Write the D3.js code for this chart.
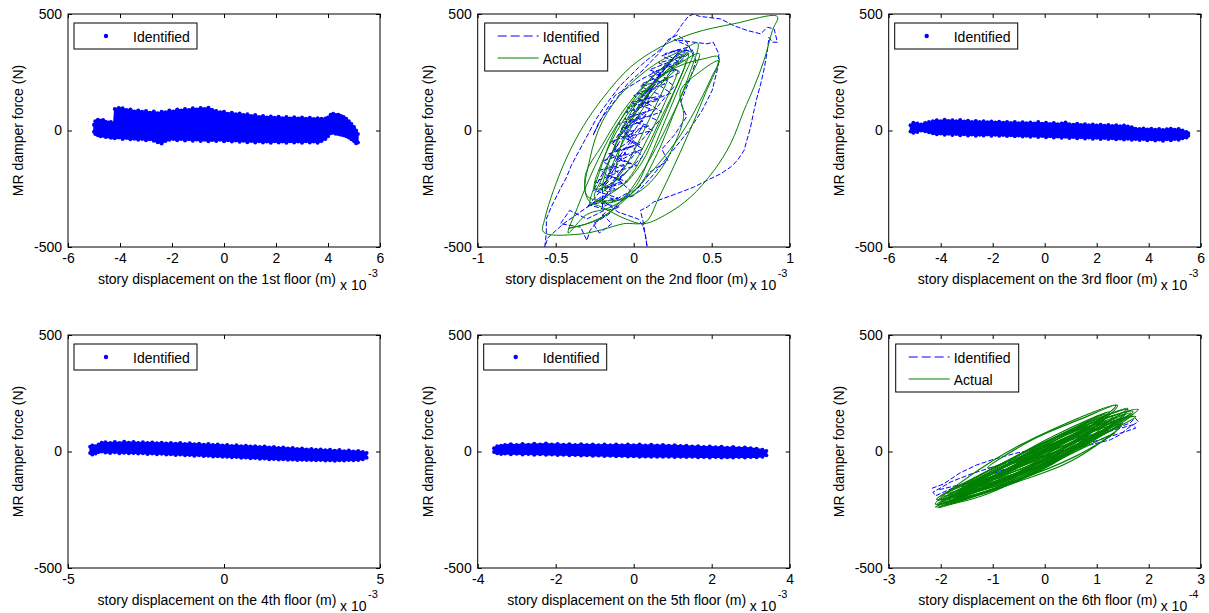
<!DOCTYPE html>
<html>
<head>
<meta charset="utf-8">
<script src="https://cdn.jsdelivr.net/npm/d3@7"></script>
<style>
  body { margin: 0; background: #fff; }
  svg text { font-family: "Liberation Sans", Arial, sans-serif; font-size: 14px; fill: #000; }
</style>
</head>
<body>
<svg id="fig" width="1209" height="613"></svg>
<script>
const floorNames = ["1st", "2nd", "3rd", "4th", "5th", "6th"];
const xDomains = [[-6, 6], [-1, 1], [-6, 6], [-5, 5], [-4, 4], [-3, 3]];
const xTicks = [
  [-6, -4, -2, 0, 2, 4, 6],
  [-1, -0.5, 0, 0.5, 1],
  [-6, -4, -2, 0, 2, 4, 6],
  [-5, 0, 5],
  [-4, -2, 0, 2, 4],
  [-3, -2, -1, 0, 1, 2, 3]
];
const xExponents = ["-3", "-3", "-3", "-3", "-3", "-4"];
const yTicks = [-500, 0, 500];
const seriesNames = ["Identified", "Actual"];

// identified force clouds (dense point bands): [displacement, upper edge, lower edge]
const cloud1 = [
  [-5.00, 25, -5], [-4.95, 40, -15], [-4.85, 46, -20], [-4.75, 42, -25], [-4.65, 45, -22], [-4.55, 38, -28],
  [-4.45, 34, -26], [-4.35, 36, -31], [-4.24, 30, -30], [-4.20, 92, -33], [-4.05, 97, -30], [-3.90, 95, -36],
  [-3.75, 88, -32], [-3.60, 90, -38], [-3.45, 82, -35], [-3.30, 86, -40], [-3.15, 80, -36], [-3.00, 84, -42],
  [-2.85, 76, -38], [-2.70, 82, -44], [-2.55, 74, -50], [-2.40, 80, -56], [-2.25, 78, -45], [-2.10, 86, -40],
  [-1.95, 82, -36], [-1.80, 90, -42], [-1.65, 86, -37], [-1.50, 92, -43], [-1.35, 88, -38], [-1.20, 95, -44],
  [-1.05, 90, -39], [-0.90, 97, -45], [-0.75, 92, -40], [-0.60, 98, -46], [-0.45, 88, -41], [-0.30, 84, -45],
  [-0.15, 78, -40], [0.00, 80, -46], [0.15, 72, -42], [0.30, 76, -47], [0.45, 70, -43], [0.60, 73, -48],
  [0.75, 66, -44], [0.90, 70, -50], [1.05, 62, -45], [1.20, 66, -51], [1.35, 58, -46], [1.50, 62, -52],
  [1.65, 56, -47], [1.80, 60, -53], [1.95, 55, -46], [2.10, 59, -52], [2.25, 53, -47], [2.40, 58, -53],
  [2.55, 52, -46], [2.70, 57, -52], [2.85, 51, -47], [3.00, 56, -53], [3.15, 50, -46], [3.30, 55, -52],
  [3.45, 49, -47], [3.60, 53, -53], [3.75, 50, -45], [3.90, 52, -36], [4.00, 56, -25], [4.10, 68, -12],
  [4.20, 72, -10], [4.30, 66, -14], [4.40, 68, -15], [4.50, 62, -18], [4.60, 58, -20], [4.70, 50, -25],
  [4.80, 40, -30], [4.90, 28, -38], [5.00, 15, -45], [5.08, 0, -55], [5.15, -15, -52]
];
const cloud3 = [
  [-5.16, 22, -4], [-5.05, 33, -10], [-4.90, 30, -6], [-4.75, 26, 0], [-4.60, 32, -3], [-4.45, 36, -8],
  [-4.30, 40, -12], [-4.15, 44, -16], [-4.00, 40, -13], [-3.85, 46, -18], [-3.70, 41, -14], [-3.55, 44, -19],
  [-3.40, 40, -15], [-3.25, 45, -20], [-3.10, 39, -16], [-2.95, 42, -21], [-2.80, 37, -17], [-2.65, 41, -22],
  [-2.50, 36, -18], [-2.35, 40, -21], [-2.20, 35, -17], [-2.05, 39, -22], [-1.90, 34, -18], [-1.75, 38, -23],
  [-1.60, 33, -19], [-1.45, 37, -24], [-1.30, 32, -20], [-1.15, 36, -25], [-1.00, 31, -21], [-0.85, 35, -26],
  [-0.70, 31, -22], [-0.55, 34, -27], [-0.40, 30, -23], [-0.25, 36, -28], [-0.10, 29, -24], [0.05, 33, -29],
  [0.20, 28, -25], [0.35, 32, -30], [0.50, 27, -26], [0.65, 30, -31], [0.80, 34, -27], [0.95, 27, -32],
  [1.10, 25, -28], [1.25, 29, -33], [1.40, 24, -29], [1.55, 27, -34], [1.70, 22, -30], [1.85, 26, -35],
  [2.00, 21, -31], [2.15, 25, -36], [2.30, 20, -32], [2.45, 24, -37], [2.60, 19, -33], [2.75, 23, -38],
  [2.90, 18, -34], [3.05, 21, -39], [3.20, 17, -35], [3.35, 14, -40], [3.50, 8, -36], [3.65, 6, -41],
  [3.80, 9, -37], [3.95, 4, -42], [4.10, 7, -38], [4.25, 3, -43], [4.40, 6, -39], [4.55, 2, -44],
  [4.70, 5, -38], [4.85, 8, -42], [5.00, 3, -37], [5.15, 6, -40], [5.30, 0, -33], [5.45, -6, -30], [5.52, -12, -22]
];
const cloud4 = [
  [-4.29, 20, -6], [-4.22, 26, -13], [-4.12, 22, -9], [-4.02, 30, -2], [-3.92, 38, 0], [-3.80, 40, -4],
  [-3.65, 36, -6], [-3.50, 41, -3], [-3.35, 37, -7], [-3.20, 42, -5], [-3.05, 38, -8], [-2.90, 41, -6],
  [-2.75, 37, -9], [-2.60, 40, -7], [-2.45, 36, -11], [-2.30, 39, -9], [-2.15, 35, -12], [-2.00, 38, -10],
  [-1.85, 34, -13], [-1.70, 37, -12], [-1.55, 33, -15], [-1.40, 36, -13], [-1.25, 32, -16], [-1.10, 35, -15],
  [-0.95, 31, -18], [-0.80, 33, -16], [-0.65, 29, -19], [-0.50, 32, -18], [-0.35, 28, -21], [-0.20, 30, -20],
  [-0.05, 26, -23], [0.10, 28, -22], [0.25, 24, -25], [0.40, 27, -24], [0.55, 23, -27], [0.70, 25, -26],
  [0.85, 21, -29], [1.00, 23, -28], [1.15, 19, -31], [1.30, 21, -30], [1.45, 17, -33], [1.60, 19, -32],
  [1.75, 15, -34], [1.90, 17, -33], [2.05, 13, -35], [2.20, 15, -34], [2.35, 11, -36], [2.50, 13, -35],
  [2.65, 9, -37], [2.80, 11, -36], [2.95, 7, -38], [3.10, 9, -37], [3.25, 5, -39], [3.40, 7, -38],
  [3.55, 3, -40], [3.70, 6, -38], [3.85, 1, -39], [4.00, 4, -37], [4.15, 0, -38], [4.30, 2, -36],
  [4.45, -2, -33], [4.57, -6, -27]
];
const cloud5 = [
  [-3.58, 14, -2], [-3.50, 22, -8], [-3.40, 25, -11], [-3.30, 28, -9], [-3.15, 31, -12], [-3.00, 28, -10],
  [-2.85, 32, -13], [-2.70, 29, -11], [-2.55, 33, -14], [-2.40, 30, -12], [-2.25, 34, -14], [-2.10, 30, -13],
  [-1.95, 32, -15], [-1.80, 29, -14], [-1.65, 31, -16], [-1.50, 28, -15], [-1.35, 31, -17], [-1.20, 28, -16],
  [-1.05, 30, -18], [-0.90, 27, -17], [-0.75, 30, -19], [-0.60, 27, -18], [-0.45, 30, -20], [-0.30, 27, -19],
  [-0.15, 30, -21], [0.00, 27, -20], [0.15, 30, -22], [0.30, 26, -21], [0.45, 29, -23], [0.60, 26, -22],
  [0.75, 28, -23], [0.90, 25, -22], [1.05, 27, -24], [1.20, 24, -23], [1.35, 25, -24], [1.50, 21, -23],
  [1.65, 23, -25], [1.80, 19, -24], [1.95, 21, -26], [2.10, 18, -24], [2.25, 20, -26], [2.40, 16, -25],
  [2.55, 19, -26], [2.70, 15, -24], [2.85, 17, -26], [3.00, 14, -24], [3.15, 12, -25], [3.30, 8, -22],
  [3.40, 2, -16]
];

// 2nd floor: force-displacement traces [x (1e-3 m), force N]
const identified2 = [
  [-0.02, -40], [-0.12, -90], [0.02, -60], [-0.08, 10], [0.06, 40], [-0.05, 80], [0.10, 110], [0.00, 150],
  [0.14, 180], [0.05, 200], [0.20, 240], [0.10, 260], [0.25, 300], [0.18, 320], [0.30, 350],
  [0.22, 280], [0.30, 250], [0.15, 200], [0.24, 160], [0.08, 120], [0.18, 80], [0.00, 40], [0.12, 0],
  [-0.06, -30], [0.06, -80], [-0.12, -120], [0.02, -150], [-0.18, -190], [-0.04, -220], [-0.24, -260],
  [-0.10, -290], [-0.28, -320], [-0.18, -340], [-0.30, -380],
  [-0.41, -343], [-0.47, -400], [-0.34, -415], [-0.30, -472], [-0.28, -429], [-0.21, -372], [-0.17, -343], [-0.09, -329],
  [-0.22, -310], [-0.05, -180], [-0.15, -230], [0.02, -90], [-0.12, -140], [-0.20, -240], [-0.08, -120],
  [0.06, 20], [-0.04, -40], [0.10, 90], [0.00, 40], [-0.14, -60], [-0.02, 60], [0.14, 200], [0.05, 140],
  [0.22, 280], [0.12, 200], [0.28, 330], [0.18, 260], [0.05, 100], [0.12, 180], [-0.06, 0], [0.04, 70],
  [-0.18, -130], [-0.10, -60], [-0.26, -260], [-0.14, -200], [-0.30, -330], [-0.18, -280], [-0.06, -150],
  [-0.16, -170], [0.00, -30], [-0.08, -10], [0.08, 140], [0.00, 110], [0.18, 240], [0.08, 170], [0.24, 300],
  [0.34, 350], [0.20, 220], [0.26, 190], [0.10, 60], [0.16, 40], [0.00, -80], [0.06, -110], [-0.10, -210],
  [-0.02, -260], [-0.20, -330],
  [-0.20, -250], [-0.08, -220], [-0.22, -170], [-0.02, -140], [-0.16, -100], [0.04, -60], [-0.10, -20], [0.10, 20],
  [-0.06, 50], [0.12, 90], [-0.02, 120], [0.18, 150], [0.04, 190], [0.22, 220], [0.12, 250], [0.30, 290],
  [0.20, 330], [0.36, 360], [0.26, 390],
  [0.47, 372], [0.51, 379], [0.546, 329], [0.54, 272], [0.503, 172], [0.439, 86], [0.353, 0], [0.268, -72],
  [0.182, -143], [0.096, -214], [0.00, -280], [-0.10, -300], [-0.20, -280],
  [-0.30, -330], [-0.45, -400], [-0.55, -460], [-0.57, -500], [-0.56, -440], [-0.56, -380], [-0.53, -330],
  [-0.50, -290], [-0.47, -250], [-0.43, -200], [-0.40, -150], [-0.36, -100], [-0.32, -50], [-0.28, 0],
  [-0.24, 50], [-0.19, 100], [-0.14, 145], [-0.09, 190], [-0.03, 230], [0.03, 270], [0.09, 305], [0.15, 335],
  [0.21, 375], [0.27, 415], [0.31, 455], [0.35, 490], [0.385, 500],
  [0.42, 490], [0.471, 486], [0.557, 479], [0.642, 450], [0.728, 429], [0.814, 415], [0.857, 443], [0.90, 436],
  [0.921, 379], [0.889, 379], [0.867, 400],
  [0.857, 343], [0.835, 260], [0.814, 200], [0.79, 140], [0.771, 86], [0.749, 14], [0.707, -86], [0.664, -129],
  [0.621, -157], [0.557, -186], [0.471, -214], [0.385, -243], [0.30, -265], [0.214, -286], [0.128, -307],
  [0.086, -329], [0.043, -343],
  [0.06, -390], [0.07, -430], [0.08, -470], [0.086, -500], [0.075, -450], [0.06, -410], [0.03, -380],
  [-0.10, -350], [-0.20, -300], [-0.12, -250], [-0.25, -220], [-0.10, -180], [-0.20, -130], [-0.05, -100],
  [-0.15, -50], [0.00, -10], [-0.10, 30], [0.08, 60], [-0.04, 100], [0.16, 130], [0.02, 160], [0.20, 200],
  [0.10, 230], [0.27, 260], [0.16, 290], [0.33, 320], [0.25, 340], [0.38, 345], [0.30, 300],
  [0.22, 280], [0.05, 220], [-0.12, 150], [-0.20, 60], [-0.26, -20], [-0.22, 40], [-0.14, 110], [-0.04, 200],
  [0.06, 260], [0.16, 330], [0.22, 390], [0.28, 410], [0.34, 380], [0.40, 300], [0.36, 220], [0.30, 120],
  [0.34, 60], [0.26, -20], [0.18, -80], [0.22, -130], [0.10, -180], [0.04, -240], [-0.08, -300], [-0.16, -360],
  [-0.26, -400], [-0.22, -440], [-0.14, -400], [-0.20, -360]
];
const actual2 = [
  [-0.12, -180], [-0.08, -60], [0.00, 60], [0.10, 160], [0.22, 230], [0.15, 120], [0.08, 20], [0.00, -90], [-0.10, -200],
  [-0.20, -260], [-0.15, -120], [-0.05, 40], [0.08, 170], [0.25, 280], [0.35, 330], [0.28, 200], [0.18, 60],
  [0.08, -80], [-0.05, -220], [-0.22, -300],
  [-0.28, -320], [-0.22, -180], [-0.12, 0], [0.02, 150], [0.20, 280], [0.41, 375], [0.35, 230], [0.25, 60],
  [0.15, -100], [0.02, -250], [-0.15, -330], [-0.30, -360],
  [-0.42, -440], [-0.36, -330], [-0.26, -170], [-0.12, 10], [0.06, 165], [0.27, 270], [0.45, 308], [0.546, 315],
  [0.46, 160], [0.36, 0], [0.26, -150], [0.16, -290], [0.075, -393], [-0.064, -400], [-0.20, -425], [-0.35, -445],
  [-0.578, -436], [-0.567, -372], [-0.514, -257], [-0.428, -114], [-0.321, 21], [-0.193, 143], [-0.021, 272],
  [0.171, 358], [0.385, 418], [0.642, 458], [0.921, 489], [0.889, 429], [0.835, 300], [0.771, 186], [0.707, 86],
  [0.621, -57], [0.514, -172], [0.364, -286], [0.214, -358], [0.064, -400],
  [-0.05, -380], [-0.20, -330], [-0.29, -300], [-0.31, -193], [-0.20, -60], [-0.05, 100], [0.12, 230], [0.30, 320],
  [0.38, 340], [0.30, 200], [0.20, 40], [0.10, -120], [0.00, -250], [-0.15, -310], [-0.25, -290],
  [-0.20, -200], [-0.10, -40], [0.05, 120], [0.20, 250], [0.33, 300], [0.25, 150], [0.15, 0], [0.05, -140],
  [-0.08, -240], [-0.18, -260],
  [-0.12, -120], [0.00, 30], [0.15, 180], [0.28, 260], [0.20, 120], [0.10, -20], [-0.02, -160], [-0.15, -230],
  [-0.25, -250], [-0.18, -100], [-0.05, 60], [0.12, 200], [0.30, 290], [0.42, 330], [0.32, 170], [0.20, 0],
  [0.08, -150], [-0.05, -280], [-0.22, -380], [-0.42, -420],
  [-0.30, -400], [-0.15, -350], [0.00, -260], [0.15, -150], [0.30, -20], [0.42, 120], [0.50, 230], [0.546, 300],
  [0.42, 250], [0.30, 170], [0.32, 60], [0.26, -60], [0.16, -180], [0.04, -260], [-0.12, -300], [-0.30, -280],
  [-0.28, -120], [-0.20, 40], [-0.05, 180], [0.15, 290], [0.30, 340]
];

// 6th floor: [x (1e-4 m), force N]
const identified6 = [
  [-2.17, -158], [-1.95, -140], [-1.63, -92], [-1.31, -58], [-1.02, -36], [-0.60, -10], [0.00, 20], [0.50, 50],
  [1.06, 80], [1.38, 100], [1.64, 122], [1.74, 144], [1.80, 128], [1.60, 100], [1.45, 72], [1.26, 50],
  [0.90, 30], [0.40, 5], [-0.20, -30], [-0.80, -80], [-1.30, -120], [-1.70, -150], [-2.10, -190],
  [-2.15, -175], [-1.80, -130], [-1.40, -95], [-0.90, -60], [-0.30, -20], [0.30, 20], [0.90, 60],
  [1.30, 90], [1.70, 115], [1.75, 100], [1.20, 60], [0.60, 20], [0.00, -15], [-0.70, -70], [-1.40, -130], [-2.05, -165]
];
const actual6 = [
  [[-2.10, -225], [-1.00, -40], [0.20, 100], [1.40, 198], [0.50, 28], [-0.80, -125]],
  [[-2.05, -232], [-0.90, -80], [0.30, 70], [1.80, 180], [0.80, 40], [-0.60, -130]],
  [[-2.08, -205], [-1.20, -95], [0.00, 40], [1.20, 160], [0.30, -10], [-1.00, -150]],
  [[-1.90, -215], [-0.60, -60], [0.60, 95], [1.70, 172], [0.90, 50], [-0.40, -110]],
  [[-2.05, -242], [-0.90, -135], [0.30, -20], [1.45, 105], [0.50, -42], [-0.60, -136]],
  [[-1.70, -200], [-0.50, -30], [0.80, 120], [1.60, 185], [0.70, 60], [-0.50, -90]],
  [[-1.50, -160], [-0.40, -20], [0.60, 90], [1.20, 150], [0.40, 20], [-0.60, -100]],
  [[-1.80, -210], [-0.70, -90], [0.50, 40], [1.70, 160], [0.80, 30], [-0.30, -80]],
  [[-1.20, -150], [-0.20, -30], [0.80, 80], [1.50, 140], [0.60, 30], [-0.40, -80]],
  [[-2.00, -190], [-1.00, -90], [0.00, 10], [1.00, 100], [0.00, -30], [-1.00, -140]],
  [[-1.60, -180], [-0.50, -50], [0.60, 60], [1.30, 110], [0.30, -10], [-0.80, -130]],
  [[-2.10, -238], [-1.40, -175], [-0.50, -100], [0.90, 40], [-0.20, -90], [-1.20, -190]],
  [[-1.10, -70], [-0.20, 55], [0.70, 140], [1.37, 198], [0.90, 110], [0.00, 20]],
  [[-1.90, -180], [-1.20, -110], [-0.30, -10], [0.70, 70], [-0.10, -40], [-1.00, -120]],
  [[-2.00, -215], [-0.95, -100], [0.10, 20], [1.30, 150], [0.40, -20], [-0.80, -150]],
  [[-1.95, -200], [-0.80, -70], [0.40, 60], [1.55, 160], [0.60, 20], [-0.50, -100]],
  [[-1.75, -195], [-0.70, -80], [0.30, 40], [1.40, 140], [0.50, 0], [-0.70, -130]],
  [[-1.40, -160], [-0.30, -40], [0.90, 100], [1.65, 165], [0.80, 50], [-0.30, -70]],
  [[-2.08, -228], [-1.10, -120], [-0.10, 0], [1.10, 130], [0.20, -40], [-0.90, -160]],
  [[-1.85, -205], [-0.85, -60], [0.20, 70], [1.25, 170], [0.40, 40], [-0.70, -110]],
  [[-1.30, -150], [-0.10, -10], [1.00, 110], [1.75, 150], [1.00, 60], [-0.10, -60]],
  [[-2.02, -222], [-1.30, -150], [-0.30, -60], [0.60, 20], [-0.20, -80], [-1.30, -185]],
  [[-0.80, -60], [0.20, 60], [1.00, 140], [1.60, 180], [1.10, 90], [0.20, 10]],
  [[-1.60, -150], [-0.80, -50], [0.10, 50], [0.90, 110], [0.10, 10], [-0.90, -100]],
  [[-1.00, -120], [0.00, -20], [1.00, 80], [1.50, 120], [0.80, 40], [-0.10, -60]],
  [[-2.05, -210], [-1.50, -150], [-0.70, -60], [0.30, 30], [-0.50, -60], [-1.40, -160]],
  [[-1.50, -140], [-0.60, -40], [0.40, 70], [1.20, 130], [0.50, 30], [-0.40, -60]],
  [[-1.70, -190], [-0.60, -110], [0.50, -10], [1.35, 80], [0.60, -20], [-0.50, -120]]
];

// layout
const W = 312, H = 233;
const lefts = [68, 477.7, 888.7];
const tops = [14, 335];
const BLUE = "#0000ff", GREEN = "#008000";

const svg = d3.select("#fig");
const clouds = { 0: cloud1, 2: cloud3, 3: cloud4, 4: cloud5 };

floorNames.forEach((name, i) => {
  const left = lefts[i % 3], top = tops[Math.floor(i / 3)];
  const x = d3.scaleLinear().domain(xDomains[i]).range([0, W]);
  const y = d3.scaleLinear().domain([-500, 500]).range([H, 0]);
  const g = svg.append("g").attr("transform", `translate(${left},${top})`);

  g.append("clipPath").attr("id", "clip" + i)
    .append("rect").attr("width", W).attr("height", H);
  const plot = g.append("g").attr("clip-path", `url(#clip${i})`);

  const line = d3.line().x(d => x(d[0])).y(d => y(d[1]));

  if (clouds[i]) {
    const area = d3.area()
      .x(d => x(d[0]))
      .y0(d => y(d[2]))
      .y1(d => y(d[1]));
    plot.append("path").datum(clouds[i])
      .attr("d", area)
      .attr("fill", BLUE)
      .attr("stroke", BLUE)
      .attr("stroke-width", 1.5)
      .attr("stroke-linejoin", "round");
    // edge markers give the dotted fringe of the point cloud
    plot.selectAll(".top").data(clouds[i]).enter().append("circle")
      .attr("cx", d => x(d[0])).attr("cy", d => y(d[1])).attr("r", 2)
      .attr("fill", BLUE);
    plot.selectAll(".bot").data(clouds[i]).enter().append("circle")
      .attr("cx", d => x(d[0])).attr("cy", d => y(d[2])).attr("r", 2)
      .attr("fill", BLUE);
  } else if (i === 1) {
    plot.append("path").datum(identified2)
      .attr("d", line)
      .attr("fill", "none").attr("stroke", BLUE).attr("stroke-width", 1)
      .attr("stroke-dasharray", "5,2");
    plot.append("path").datum(actual2)
      .attr("d", line.curve(d3.curveCatmullRom.alpha(0.5)))
      .attr("fill", "none").attr("stroke", GREEN).attr("stroke-width", 1);
  } else {
    plot.append("path").datum(identified6)
      .attr("d", line)
      .attr("fill", "none").attr("stroke", BLUE).attr("stroke-width", 1)
      .attr("stroke-dasharray", "5,2");
    const loop = d3.line().x(d => x(d[0])).y(d => y(d[1]))
      .curve(d3.curveCatmullRomClosed.alpha(0.5));
    plot.selectAll(".loop").data(actual6).enter().append("path")
      .attr("class", "loop")
      .attr("d", loop)
      .attr("fill", "none").attr("stroke", GREEN).attr("stroke-width", 1.2);
  }

  // axes, MATLAB style ticks pointing in on all four sides
  const fmt = d => String(d);
  g.append("g").attr("transform", `translate(0,${H})`)
    .call(d3.axisBottom(x).tickValues(xTicks[i]).tickSize(-4).tickPadding(6).tickFormat(fmt))
    .call(a => a.select(".domain").remove());
  g.append("g")
    .call(d3.axisTop(x).tickValues(xTicks[i]).tickSize(-4).tickFormat(""))
    .call(a => a.select(".domain").remove());
  g.append("g")
    .call(d3.axisLeft(y).tickValues(yTicks).tickSize(-4).tickPadding(6).tickFormat(fmt))
    .call(a => a.select(".domain").remove());
  g.append("g").attr("transform", `translate(${W},0)`)
    .call(d3.axisRight(y).tickValues(yTicks).tickSize(-4).tickFormat(""))
    .call(a => a.select(".domain").remove());
  g.append("rect").attr("width", W).attr("height", H)
    .attr("fill", "none").attr("stroke", "#000").attr("stroke-width", 1);

  // labels
  g.append("text")
    .attr("transform", `translate(-45,${H / 2}) rotate(-90)`)
    .attr("text-anchor", "middle")
    .text("MR damper force (N)");
  g.append("text")
    .attr("x", W / 2 - 7).attr("y", H + 37)
    .attr("text-anchor", "middle")
    .text(`story displacement on the ${name} floor (m)`);
  g.append("text").attr("x", W - 40).attr("y", H + 43).text("x 10");
  g.append("text").attr("x", W - 12).attr("y", H + 30)
    .style("font-size", "11px").text(xExponents[i]);

  // legend
  const twoSeries = (i === 1 || i === 5);
  const lg = g.append("g").attr("transform", `translate(${twoSeries ? 7 : 6},9)`);
  lg.append("rect").attr("width", 123).attr("height", twoSeries ? 48 : 26)
    .attr("fill", "#fff").attr("stroke", "#000").attr("stroke-width", 1);
  if (twoSeries) {
    lg.append("line").attr("x1", 13).attr("x2", 54).attr("y1", 13).attr("y2", 13)
      .attr("stroke", BLUE).attr("stroke-dasharray", "9,4");
    lg.append("line").attr("x1", 13).attr("x2", 54).attr("y1", 35).attr("y2", 35)
      .attr("stroke", GREEN);
    lg.append("text").attr("x", 58).attr("y", 18.5).text(seriesNames[0]);
    lg.append("text").attr("x", 58).attr("y", 40.5).text(seriesNames[1]);
  } else {
    lg.append("circle").attr("cx", 32).attr("cy", 13).attr("r", 2.2).attr("fill", BLUE);
    lg.append("text").attr("x", 59).attr("y", 18.5).text(seriesNames[0]);
  }
});
</script>
</body>
</html>
